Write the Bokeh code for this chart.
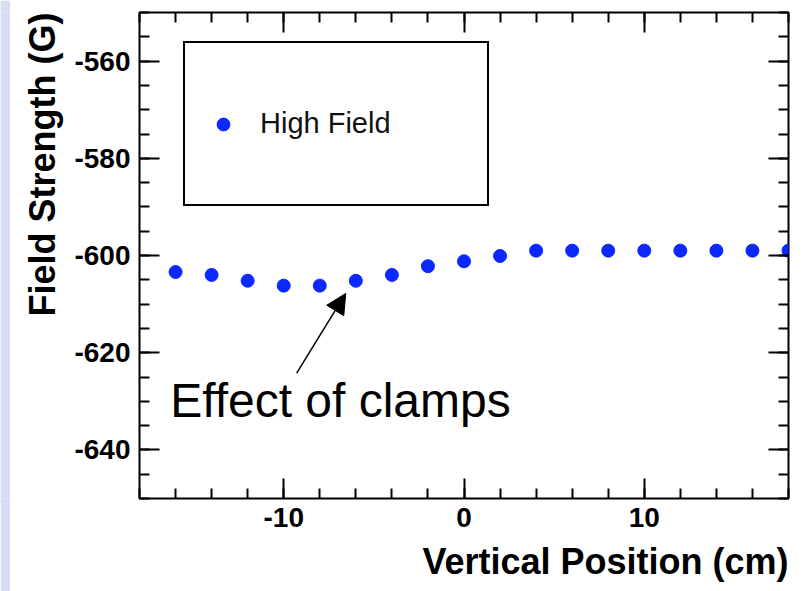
from bokeh.plotting import figure
from bokeh.models import (Range1d, LinearAxis, FixedTicker, Legend, LegendItem,
                          Label, Arrow, NormalHead, Title, ColumnDataSource)
from bokeh.layouts import row
from bokeh.embed import file_html
from bokeh.resources import INLINE

# ---- data ----
positions = [-16, -14, -12, -10, -8, -6, -4, -2, 0, 2, 4, 6, 8, 10, 12, 14, 16, 18]
field_strength = [-603.4, -604.0, -605.2, -606.2, -606.2, -605.2, -604.0, -602.2,
                  -601.2, -600.1, -599.0, -599.0, -599.0, -599.0, -599.0, -599.0,
                  -599.0, -599.0]
series_label = "High Field"
x_major = [-10, 0, 10]
x_major_labels = ["-10", "0", "10"]
x_minor = [-18, -16, -14, -12, -10, -8, -6, -4, -2, 0, 2, 4, 6, 8, 10, 12, 14, 16, 18]
y_major = [-640, -620, -600, -580, -560]
y_major_labels = ["-640", "-620", "-600", "-580", "-560"]
y_minor = [-650, -645, -640, -635, -630, -625, -620, -615, -610, -605, -600,
           -595, -590, -585, -580, -575, -570, -565, -560, -555, -550]
x_title = "Vertical Position (cm)"
y_title = "Field Strength (G)"
note_text = "Effect of clamps"

FONT = "Liberation Sans"
BLUE = "#0a28ff"

src = ColumnDataSource(dict(x=positions, y=field_strength))

p = figure(width=792, height=591, x_range=Range1d(-18, 18), y_range=Range1d(-650, -550),
           output_backend="svg", toolbar_location=None,
           min_border_left=129, min_border_right=14, min_border_top=12, min_border_bottom=92,
           background_fill_color="white", border_fill_color="white",
           outline_line_color="black", outline_line_width=2)
p.grid.visible = False


def style_axis(ax, ticks, labels, minor, show_labels=True):
    ax.ticker = FixedTicker(ticks=ticks, minor_ticks=minor)
    ax.axis_line_color = None
    ax.major_tick_in = 20
    ax.major_tick_out = 0
    ax.minor_tick_in = 10
    ax.minor_tick_out = 0
    ax.major_tick_line_width = 2
    ax.minor_tick_line_width = 2
    ax.major_tick_line_color = "black"
    ax.minor_tick_line_color = "black"
    if show_labels:
        ax.major_label_overrides = {t: s for t, s in zip(ticks, labels)}
        ax.major_label_text_font = FONT
        ax.major_label_text_font_size = "28px"
        ax.major_label_text_font_style = "bold"
        ax.major_label_text_color = "black"
        ax.major_label_standoff = 9
    else:
        ax.major_label_text_font_size = "1px"
        ax.major_label_text_color = None
        ax.major_label_standoff = 0


style_axis(p.xaxis[0], x_major, x_major_labels, x_minor)
style_axis(p.yaxis[0], y_major, y_major_labels, y_minor)
top_ax = LinearAxis()
right_ax = LinearAxis()
style_axis(top_ax, x_major, x_major_labels, x_minor, show_labels=False)
style_axis(right_ax, y_major, y_major_labels, y_minor, show_labels=False)
p.add_layout(top_ax, "above")
p.add_layout(right_ax, "right")

r = p.scatter(x="x", y="y", source=src, size=13, color=BLUE)

legend = Legend(items=[LegendItem(label=series_label, renderers=[r])],
                location=(44, 292), border_line_color="black", border_line_width=2,
                border_line_alpha=1.0,
                padding=22, glyph_width=32, glyph_height=32, label_standoff=21,
                label_width=205, label_height=117, margin=0,
                label_text_font=FONT, label_text_font_size="29px",
                label_text_color="#111111", background_fill_color="white",
                background_fill_alpha=1.0)
p.add_layout(legend, "center")

note = Label(x=-16.3, y=-629.8, text=note_text, text_font=FONT, text_font_size="48px",
             text_baseline="alphabetic", text_align="left", text_color="black")
p.add_layout(note)
p.add_layout(Arrow(x_start=-9.28, y_start=-624.2, x_end=-6.56, y_end=-607.8,
                   line_width=1.5, line_color="black",
                   end=NormalHead(size=20, fill_color="black", line_color="black")))

p.add_layout(Title(text=x_title, align="right", text_font=FONT, text_font_size="36px",
                   text_font_style="bold", text_color="black", standoff=19), "below")
p.add_layout(Title(text=y_title, align="right", text_font=FONT, text_font_size="36px",
                   text_font_style="bold", text_color="black", standoff=17), "left")

strip = figure(width=10, height=591, toolbar_location=None, output_backend="svg",
               min_border=0, x_axis_location=None, y_axis_location=None,
               outline_line_color=None, background_fill_color="#d9ddf4",
               border_fill_color="#d9ddf4")
strip.grid.visible = False

layout = row(strip, p, spacing=0)
open("out.html", "w").write(file_html(layout, INLINE))
